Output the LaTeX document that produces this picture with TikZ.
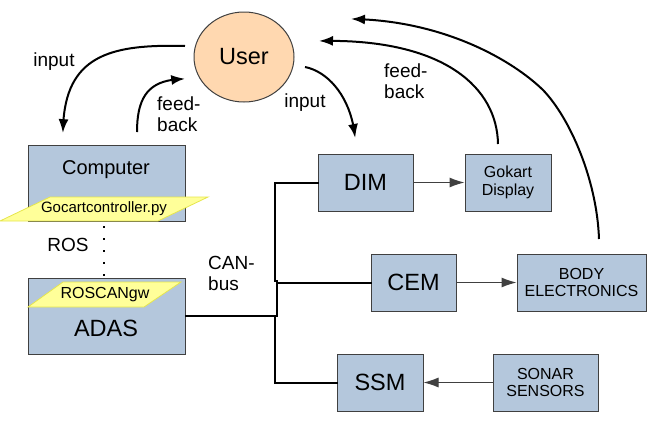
\documentclass[tikz,border=0pt]{standalone}
\usepackage{fontspec}
\setmainfont{Liberation Sans}
\usetikzlibrary{arrows.meta,bending,shapes.geometric}
\definecolor{boxfill}{HTML}{B4C7DC}
\definecolor{boxline}{HTML}{404040}
\definecolor{userfill}{HTML}{FFD8B0}
\definecolor{yel}{HTML}{FFFF99}
\definecolor{yelline}{HTML}{E6E64C}
\definecolor{thinline}{HTML}{404040}
\tikzset{
  blk/.style={draw=boxline, fill=boxfill, line width=1pt, inner sep=0pt, align=center},
  big/.style={font=\fontsize{23.5}{26}\selectfont},
  small/.style={font=\fontsize{16}{17.5}\selectfont},
  lbl/.style={font=\fontsize{19}{21.5}\selectfont, inner sep=0pt, align=left},
  curv/.style={line width=2pt, -{Latex[length=14pt,width=10pt,bend]}},
  thin/.style={draw=thinline, line width=1pt, -{Latex[length=15pt,width=10pt]}},
  bus/.style={line width=2pt, line cap=rect},
  para/.style={fill=yel, draw=yelline, line width=0.8pt},
}
\begin{document}
\begin{tikzpicture}[x=1pt,y=-1pt]
\useasboundingbox (0,0) rectangle (654,426);

% User
\node[ellipse, draw=boxline, fill=userfill, line width=1pt, minimum width=100pt, minimum height=90pt, inner sep=0pt, big] (user) at (244,57) {};
\node[big, inner sep=0pt] (usertxt) at (244,57) {User};

% Computer & ADAS
\node[blk, minimum width=157pt, minimum height=76pt] (comp) at (106.5,183) {};
\node[font=\fontsize{20}{22}\selectfont, inner sep=0pt] (comptxt) at (106,170) {Computer};
\filldraw[para] (0,221) -- (50,197) -- (208,197) -- (158,221) -- cycle;
\node[font=\fontsize{15}{17}\selectfont, inner sep=0pt] (gocart) at (104,209) {Gocartcontroller.py};

\node[blk, minimum width=157pt, minimum height=76pt] (adas) at (106.5,316) {};
\filldraw[para] (28,307) -- (63,282) -- (181,282) -- (144,307) -- cycle;
\node[small, inner sep=0pt] (roscan) at (105,295) {ROSCANgw};
\node[big, inner sep=0pt] (adastxt) at (106,328) {ADAS};

% ROS dotted link
\coordinate (rosTop) at (104,222);
\coordinate (rosBot) at (104,281);
\draw[line width=2pt, dash pattern=on 2pt off 10pt, dash phase=-4pt] (rosTop) -- (rosBot);
\node[lbl] (ros) at (68,245) {ROS};

% ECUs
\node[blk, big, minimum width=95pt, minimum height=57pt] (dim) at (365.5,182.5) {DIM};
\node[blk, small, minimum width=86pt, minimum height=57pt] (disp) at (508,182.5) {Gokart\\Display};
\node[blk, big, minimum width=85pt, minimum height=57pt] (cem) at (413.5,282.5) {CEM};
\node[blk, small, minimum width=129pt, minimum height=57pt] (body) at (581.5,282.5) {BODY\\ELECTRONICS};
\node[blk, big, minimum width=86pt, minimum height=57pt] (ssm) at (380,382.5) {SSM};
\node[blk, small, minimum width=105pt, minimum height=57pt] (sonar) at (545.5,382.5) {SONAR\\SENSORS};

% CAN bus
\coordinate (j1) at (275,281);
\coordinate (j2) at (277,316);
\coordinate (j3) at (275,316);
\draw[bus] (dim.west) -| (j1) -- (277,281) -- (j2);
\draw[bus] (cem.west) -- (277,282.5);
\draw[bus] (adas.east) -- (j2);
\draw[bus] (ssm.west) -| (j3) -- (j2);
\node[lbl, anchor=north west] (can) at (208,256) {CAN-\\bus};

% thin arrows
\draw[thin] (dim.east) -- (disp.west);
\draw[thin] (cem.east) -- (body.west);
\draw[thin] (sonar.west) -- (ssm.east);

% curved arrows
\coordinate (uIn1) at (185,46);
\coordinate (cIn) at (63,133);
\draw[curv] (uIn1) .. controls (110,44) and (63,55) .. (cIn);
\node[lbl] (in1) at (54,62) {input};

\coordinate (cFb) at (137,132);
\coordinate (uFb1) at (185,79);
\draw[curv] (cFb) .. controls (137,95) and (150,79) .. (uFb1);
\node[lbl, anchor=west] (fb1) at (157,114) {feed-\\back};

\coordinate (uIn2) at (305,67);
\coordinate (dIn) at (355,138);
\draw[curv] (uIn2) .. controls (330,72) and (352,100) .. (dIn);
\node[lbl] (in2) at (305,103) {input};

\coordinate (gFb) at (498,144);
\coordinate (uFb2) at (319,41);
\draw[curv] (gFb) .. controls (497,85) and (440,38) .. (uFb2);
\node[lbl, anchor=west] (fb2) at (384,81) {feed-\\back};

\coordinate (bFb) at (599,239);
\coordinate (mid) at (543,90);
\coordinate (uFb3) at (351,19);
\draw[curv] (bFb) .. controls (597,180) and (570,118) .. (mid) .. controls (510,58) and (440,20) .. (uFb3);
\end{tikzpicture}
\end{document}
